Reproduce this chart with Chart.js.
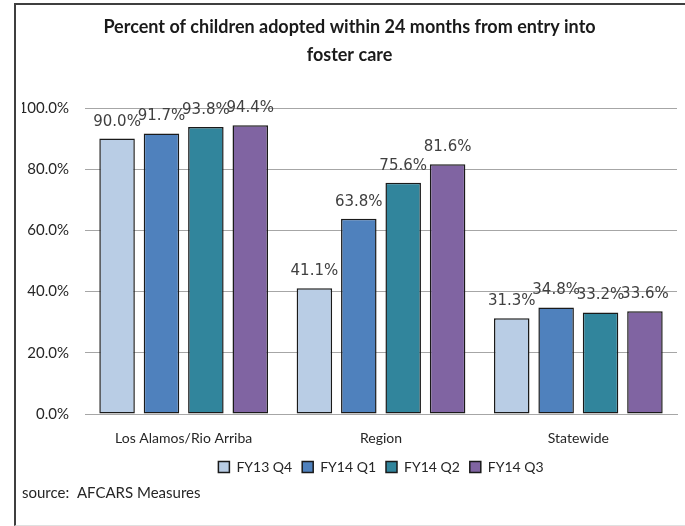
<!DOCTYPE html>
<html>
<head>
<meta charset="utf-8">
<title>Percent of children adopted within 24 months</title>
<script src="https://cdn.jsdelivr.net/npm/chart.js"></script>
<style>
  html, body { margin: 0; padding: 0; background: #fff; }
  #frame {
    position: absolute;
    left: 14px;
    top: 3px;
    width: 669px;
    height: 520px;
    border-left: 2px solid #3f3f3f;
    border-top: 2px solid #3f3f3f;
    border-bottom: 1px solid #e0e0e0;
  }
  canvas { display: block; }
</style>
</head>
<body>
<div id="frame"><canvas id="chart" width="669" height="520"></canvas></div>
<script>
// data
const categories = ["Los Alamos/Rio Arriba", "Region", "Statewide"];
const seriesNames = ["FY13 Q4", "FY14 Q1", "FY14 Q2", "FY14 Q3"];
const fy13q4 = [90.0, 41.1, 31.3];
const fy14q1 = [91.7, 63.8, 34.8];
const fy14q2 = [93.8, 75.6, 33.2];
const fy14q3 = [94.4, 81.6, 33.6];
const yTicks = [0, 20, 40, 60, 80, 100];
const titleLines = ["Percent of children adopted within 24 months from entry into", "foster care"];
const sourceNote = "source:  AFCARS Measures";

const FONT = "Lato, 'Open Sans', sans-serif";
const seriesColors = ["#B9CDE5", "#4F81BD", "#31859C", "#8064A2"];
const seriesValues = [fy13q4, fy14q1, fy14q2, fy14q3];

// ─── value labels above each bar ─────────────────────────────
const barValueLabels = {
    id: "barValueLabels",
    afterDatasetsDraw(chart) {
        const { ctx } = chart;
        ctx.save();
        ctx.font = "15px 'DejaVu Sans', sans-serif";
        ctx.fillStyle = "#404040";
        ctx.textAlign = "center";
        ctx.textBaseline = "middle";
        chart.data.datasets.forEach((ds, i) => {
            chart.getDatasetMeta(i).data.forEach((bar, j) => {
                ctx.fillText(ds.data[j].toFixed(1) + "%", bar.x, bar.y - 17);
            });
        });
        ctx.restore();
    },
};

const datasets = seriesNames.map((name, i) => ({
    label: name,
    data: seriesValues[i],
    backgroundColor: seriesColors[i],
    borderColor: "#1a1a1a",
    borderWidth: 1.5,
    borderSkipped: false,
    categoryPercentage: 0.9,
    barPercentage: 0.8,
}));

new Chart(document.getElementById("chart"), {
    type: "bar",
    data: { labels: categories, datasets },
    plugins: [barValueLabels],
    options: {
        responsive: false,
        animation: false,
        devicePixelRatio: 1,
        layout: { padding: { left: 6, right: 8, top: 0, bottom: 4 } },
        scales: {
            x: {
                afterFit: s => { s.height = 36; },
                grid: { display: false, drawTicks: false },
                border: { color: "#a6a6a6", width: 1 },
                ticks: { font: { family: FONT, size: 14 }, color: "#262626", padding: 16 },
            },
            y: {
                min: 0,
                max: 100,
                afterBuildTicks: s => { s.ticks = yTicks.map(v => ({ value: v })); },
                afterFit: s => { s.width = 63; },
                border: { display: false },
                grid: { color: "#a6a6a6", drawTicks: false },
                ticks: {
                    font: { family: FONT, size: 15 },
                    color: "#262626",
                    padding: 16,
                    callback: v => v.toFixed(1) + "%",
                },
            },
        },
        plugins: {
            tooltip: { enabled: false },
            title: {
                display: true,
                text: titleLines,
                color: "#1a1a1a",
                font: { family: FONT, size: 18, weight: "bold", lineHeight: 1.556 },
                padding: { top: 8, bottom: 39 },
            },
            legend: {
                position: "bottom",
                fullSize: false,
                labels: {
                    font: { family: FONT, size: 14 },
                    color: "#262626",
                    boxWidth: 11,
                    boxHeight: 11,
                    padding: 10,
                },
            },
            subtitle: {
                display: true,
                position: "bottom",
                align: "start",
                text: sourceNote,
                color: "#262626",
                font: { family: FONT, size: 15 },
                padding: { top: 0, bottom: 19 },
            },
        },
    },
});
</script>
</body>
</html>
